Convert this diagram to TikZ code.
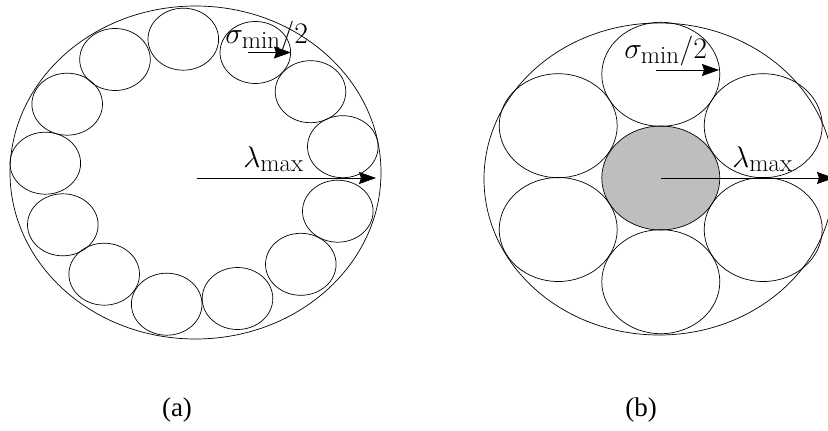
\documentclass[tikz,border=0pt]{standalone}
\usepackage{fontspec}
\newfontfamily\timesf{Liberation Serif}
\usetikzlibrary{shapes.geometric,arrows.meta}
\newcommand{\biglab}[1]{\scalebox{1.2}{\Huge$#1$}}
\tikzset{
  bub/.style={ellipse,draw,inner sep=0pt,minimum width=70.6pt,minimum height=62pt},
  bigb/.style={ellipse,draw,inner sep=0pt,minimum width=118pt,minimum height=104pt},
  outer/.style={ellipse,draw,inner sep=0pt},
  arr/.style={-{Stealth[length=17pt,width=12pt,inset=2pt]}},
  mlab/.style={inner sep=0pt},
  panellab/.style={inner sep=0pt,font=\timesf\fontsize{27}{32}\selectfont},
}
\begin{document}
\begin{tikzpicture}[x=1pt,y=-1pt,line width=0.7pt]
\useasboundingbox (0,0) rectangle (828,431);
% ---------- (a) ----------
\node[outer,minimum width=371pt,minimum height=333pt] (A) at (195.5,172.5) {};
\node[bub] (a1) at (183.3,39.2) {};
\node[bub] (a2) at (255.3,52.5) {};
\node[bub] (a3) at (310.5,91.7) {};
\node[bub] (a4) at (342.8,146.7) {};
\node[bub] (a5) at (337.8,211.2) {};
\node[bub] (a6) at (300.8,264.3) {};
\node[bub] (a7) at (237.5,298.5) {};
\node[bub] (a8) at (166.7,304.2) {};
\node[bub] (a9) at (104.2,274.2) {};
\node[bub] (a10) at (62.8,224.8) {};
\node[bub] (a11) at (45.3,163.2) {};
\node[bub] (a12) at (67.2,104.2) {};
\node[bub] (a13) at (115,59.5) {};
\coordinate (ac) at (196.7,178);
\coordinate (ae) at (376,178);
\draw[arr] (ac) -- (ae);
\coordinate (as) at (248,52.5);
\draw[arr] (as) -- (a2.east);
\node[mlab,anchor=base west] (al) at (243,167) {\biglab{\lambda_{\max}}};
\node[mlab,anchor=base west] (asl) at (225,43) {\biglab{\sigma_{\min}/2}};
\node[panellab] (capa) at (177,410) {(a)};
% ---------- (b) ----------
\node[outer,minimum width=350pt,minimum height=312pt] (B) at (659,179) {};
\node[bigb,fill={rgb,255:red,189;green,190;blue,192}] (b0) at (660.8,178) {};
\node[bigb] (b1) at (660.8,74.3) {};
\node[bigb] (b2) at (660.8,281.7) {};
\node[bigb] (b3) at (558.2,125.7) {};
\node[bigb] (b4) at (558.2,229.5) {};
\node[bigb] (b5) at (763.2,125.7) {};
\node[bigb] (b6) at (763.2,229.5) {};
\coordinate (be) at (834,178);
\draw[arr] (b0.center) -- (be);
\coordinate (bs1) at (656,70);
\coordinate (bs2) at (719,70);
\draw[arr] (bs1) -- (bs2);
\node[mlab,anchor=base west] (bl) at (732,167) {\biglab{\lambda_{\max}}};
\node[mlab,anchor=base west] (bsl) at (624,58) {\biglab{\sigma_{\min}/2}};
\node[panellab] (capb) at (641,410) {(b)};
\end{tikzpicture}
\end{document}
